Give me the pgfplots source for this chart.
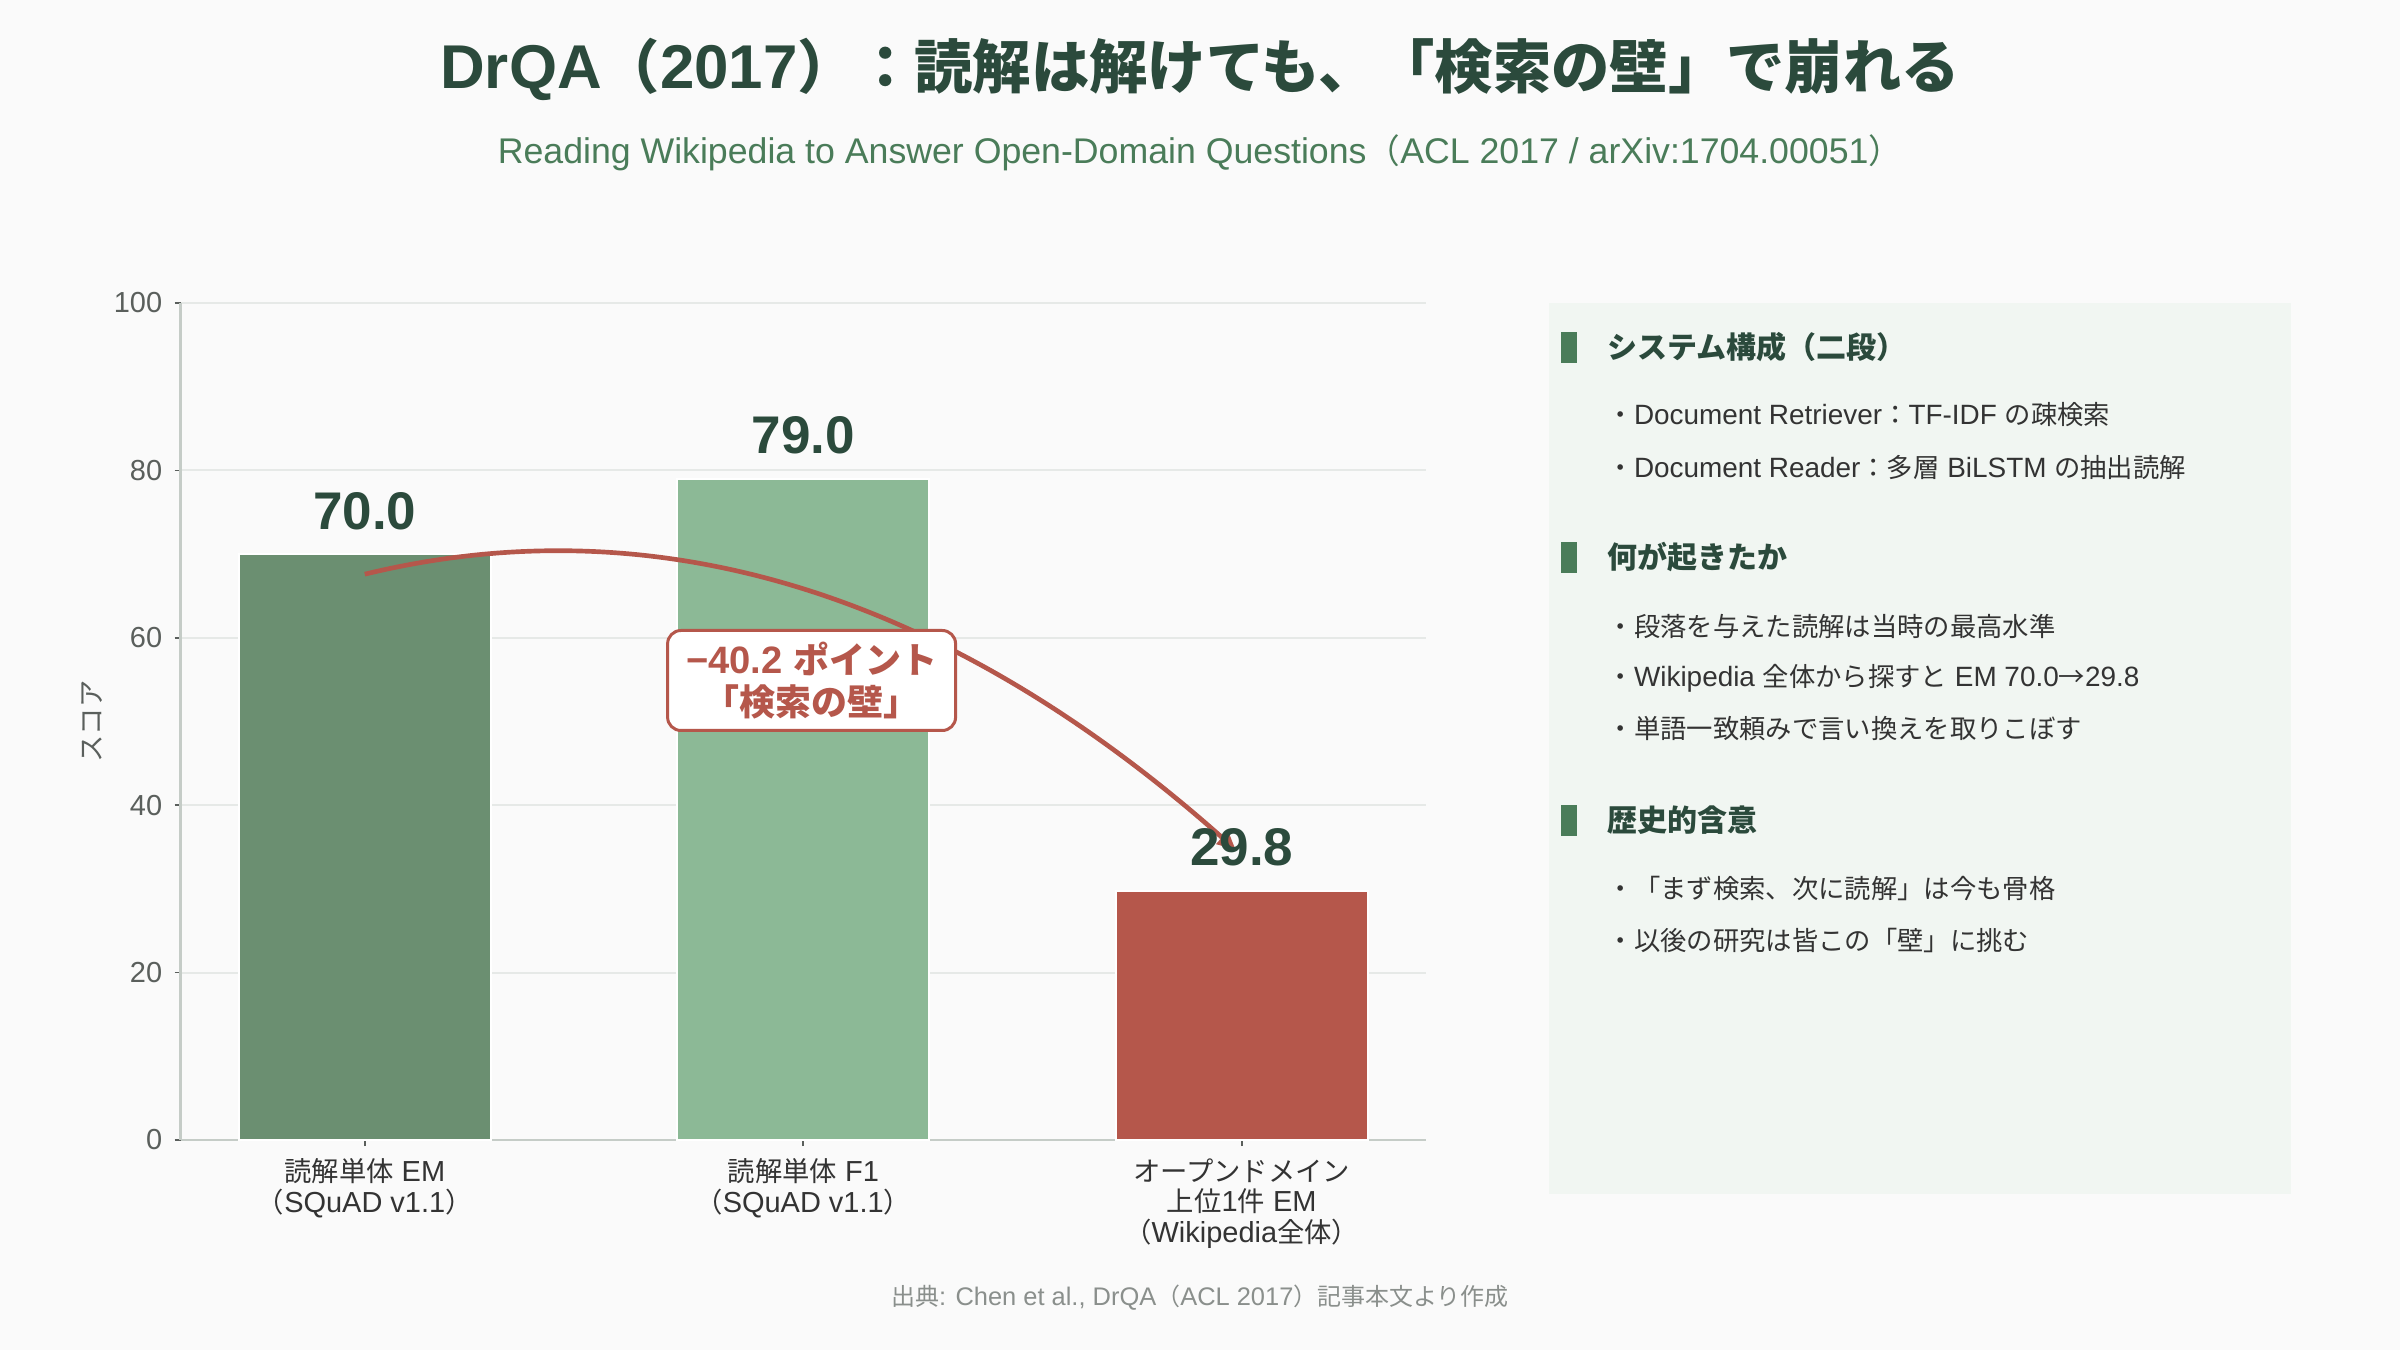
\documentclass[border=0pt]{standalone}
\usepackage{fontspec}
\setmainfont{Liberation Sans}[Scale=1.06]
\newfontfamily\cjkfamily{Noto Sans CJK JP}
\XeTeXinterchartokenstate=1
\newXeTeXintercharclass\cjkcls
\count255="3000
\loop \XeTeXcharclass\count255=\cjkcls \ifnum\count255<"30FF \advance\count255 by 1 \repeat
\count255="4E00
\loop \XeTeXcharclass\count255=\cjkcls \ifnum\count255<"9FFF \advance\count255 by 1 \repeat
\count255="FF00
\loop \XeTeXcharclass\count255=\cjkcls \ifnum\count255<"FFEF \advance\count255 by 1 \repeat
\XeTeXcharclass"2192=\cjkcls
\XeTeXinterchartoks 0 \cjkcls = {\cjkfamily}
\XeTeXinterchartoks 4095 \cjkcls = {\cjkfamily}
\XeTeXinterchartoks \cjkcls 0 = {\rmfamily}
\XeTeXinterchartoks \cjkcls 4095 = {\rmfamily}
\usepackage{pgfplots}
\pgfplotsset{compat=1.18}
\usetikzlibrary{arrows.meta}
\definecolor{bgc}{HTML}{FAFAFA}
\definecolor{panelc}{HTML}{F1F6F2}
\definecolor{titlec}{HTML}{2B4A3C}
\definecolor{subc}{HTML}{4A7C59}
\definecolor{barA}{HTML}{6B8F71}
\definecolor{barB}{HTML}{8CB996}
\definecolor{barC}{HTML}{B5574B}
\definecolor{redc}{HTML}{B5574B}
\definecolor{gridc}{HTML}{E6E9E7}
\definecolor{axisc}{HTML}{C5CCC7}
\definecolor{tickc}{HTML}{5A5F5C}
\definecolor{textc}{HTML}{333333}
\definecolor{srcc}{HTML}{8A8F8C}
\begin{document}
\begin{tikzpicture}
\fill[bgc] (0,0) rectangle (720pt,405pt);
\begin{scope}[shift={(0pt,405pt)}, x=0.3pt, y=-0.3pt]
  % title and subtitle
  \node[font=\fontsize{17.5}{20}\selectfont\bfseries, text=titlec, inner sep=0] at (1200,69) {DrQA（2017）：読解は解けても、「検索の壁」で崩れる};
  \node[font=\fontsize{10.1}{12}\selectfont, text=subc, inner sep=0] at (1200,153) {Reading Wikipedia to Answer Open-Domain Questions（ACL 2017 / arXiv:1704.00051）};
  % right panel
  \fill[panelc] (1549,303) rectangle (2291,1194);
  \fill[subc] (1561,332) rectangle (1577,363);
  \fill[subc] (1561,542) rectangle (1577,573);
  \fill[subc] (1561,805) rectangle (1577,836);
  \begin{scope}[every node/.style={anchor=west, inner sep=0}]
    \node[font=\fontsize{9}{11}\selectfont\bfseries, text=titlec] at (1607,347) {システム構成（二段）};
    \node[font=\fontsize{7.9}{9.5}\selectfont, text=textc] at (1607,415) {・Document Retriever：TF-IDF の疎検索};
    \node[font=\fontsize{7.9}{9.5}\selectfont, text=textc] at (1607,467) {・Document Reader：多層 BiLSTM の抽出読解};
    \node[font=\fontsize{9}{11}\selectfont\bfseries, text=titlec] at (1607,557) {何が起きたか};
    \node[font=\fontsize{7.9}{9.5}\selectfont, text=textc] at (1607,626) {・段落を与えた読解は当時の最高水準};
    \node[font=\fontsize{7.9}{9.5}\selectfont, text=textc] at (1607,678) {・Wikipedia 全体から探すと EM 70.0→29.8};
    \node[font=\fontsize{7.9}{9.5}\selectfont, text=textc] at (1607,729) {・単語一致頼みで言い換えを取りこぼす};
    \node[font=\fontsize{9}{11}\selectfont\bfseries, text=titlec] at (1607,820) {歴史的含意};
    \node[font=\fontsize{7.9}{9.5}\selectfont, text=textc] at (1607,888) {・「まず検索、次に読解」は今も骨格};
    \node[font=\fontsize{7.9}{9.5}\selectfont, text=textc] at (1607,940) {・以後の研究は皆この「壁」に挑む};
  \end{scope}
  % source
  \node[font=\fontsize{7.2}{9}\selectfont, text=srcc, inner sep=0] at (1200,1298) {出典: Chen et al., DrQA（ACL 2017）記事本文より作成};
\end{scope}
\begin{axis}[
  at={(54.18pt,63pt)}, anchor=south west,
  scale only axis, width=373.6pt, height=251.1pt,
  xmin=-0.42, xmax=2.42, ymin=0, ymax=100,
  ybar,
  axis x line*=bottom, axis y line*=left,
  axis line style={color=axisc, line width=0.8pt},
  ymajorgrids, grid style={color=gridc, line width=0.6pt},
  ytick={0,20,40,60,80,100},
  xtick={0,1,2},
  xticklabels={{読解単体 EM\\（SQuAD v1.1）},{読解単体 F1\\（SQuAD v1.1）},{オープンドメイン\\上位1件 EM\\（Wikipedia全体）}},
  tick align=outside, major tick length=1.8pt,
  tick style={color=tickc, line width=0.5pt},
  /pgf/number format/assume math mode=true,
  yticklabel style={font=\fontsize{8.2}{10}\selectfont, text=tickc},
  xticklabel style={font=\fontsize{8.2}{9.2}\selectfont, text=textc, align=center},
  ylabel={スコア},
  every axis y label/.style={at={(axis description cs:-0.0707,0.5)}, rotate=90, anchor=center, font=\fontsize{8.2}{10}\selectfont, text=tickc},
  bar width=0.574,
  nodes near coords,
  point meta=y,
  nodes near coords style={font=\fontsize{15}{17}\selectfont\bfseries, text=titlec, anchor=base, yshift=7.5pt, inner sep=0,
    /pgf/number format/.cd, fixed, fixed zerofill, precision=1, assume math mode=true},
]
\addplot[bar shift=0pt, fill=barA, draw=white, line width=0.6pt] coordinates {(0,70.0)};
\addplot[bar shift=0pt, fill=barB, draw=white, line width=0.6pt] coordinates {(1,79.0)};
\addplot[bar shift=0pt, fill=barC, draw=white, line width=0.6pt] coordinates {(2,29.8)};
\draw[redc, line width=1.4pt, -{Triangle[length=5.5pt, width=5pt]}] (axis cs:0,67.6) .. controls (axis cs:0.669,76.1) and (axis cs:1.331,65.2) .. (axis cs:1.986,34.7);
\node[draw=redc, line width=0.9pt, fill=white, rounded corners=4pt, align=center, text=redc,
  font=\fontsize{10.8}{12.6}\selectfont\bfseries, minimum width=86.4pt, minimum height=30pt, inner sep=0]
  at (axis cs:1.019,54.9) {−40.2 ポイント\\「検索の壁」};
\end{axis}
\end{tikzpicture}
\end{document}
